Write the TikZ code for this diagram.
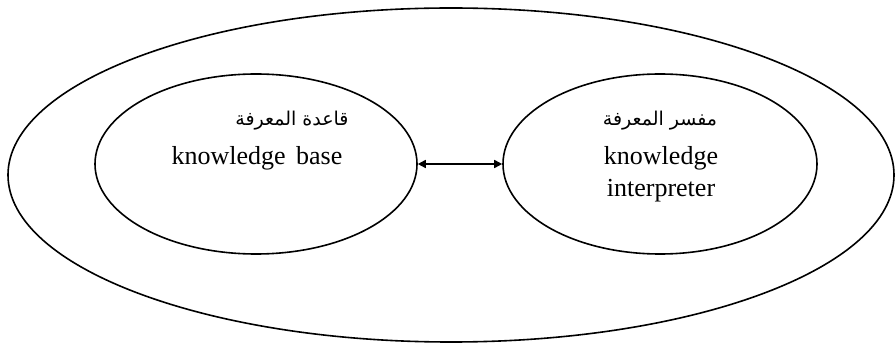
\documentclass[tikz,border=0pt]{standalone}
\usepackage{fontspec}
\setmainfont{Liberation Serif}
\newfontfamily\arabicfont[Script=Arabic]{DejaVu Sans}
\TeXXeTstate=1
\usetikzlibrary{shapes.geometric,arrows.meta}
\begin{document}
\begin{tikzpicture}[x=1pt,y=-1pt,
  ring/.style={draw=black,line width=1.6pt,ellipse,inner sep=0pt},
  label/.style={align=center,font=\fontsize{26}{32}\selectfont},
  arlabel/.style={font=\arabicfont\fontsize{19}{22}\selectfont},
  link/.style={line width=1.6pt,{Triangle[length=8pt,width=8pt]}-{Triangle[length=8pt,width=8pt]}}]
\useasboundingbox (0,0) rectangle (896,347);
% outer system boundary
\node[ring,minimum width=886pt,minimum height=334pt] (sys) at (451,175) {};
% inner components
\node[ring,minimum width=322pt,minimum height=180pt] (kb) at (256,164) {};
\node[ring,minimum width=314pt,minimum height=180pt] (ki) at (660,164) {};
% labels
\node[arlabel] (kbar) at (292,121) {\beginR قاعدة المعرفة\endR};
\node[label] (kben) at (257,158) {knowledge\hspace{0.4em}base};
\node[arlabel] (kiar) at (660,121) {\beginR مفسر المعرفة\endR};
\node[label] (kien) at (661,174) {knowledge\\interpreter};
% link between the two components
\draw[link] (kb.east) -- (ki.west);
\end{tikzpicture}
\end{document}
